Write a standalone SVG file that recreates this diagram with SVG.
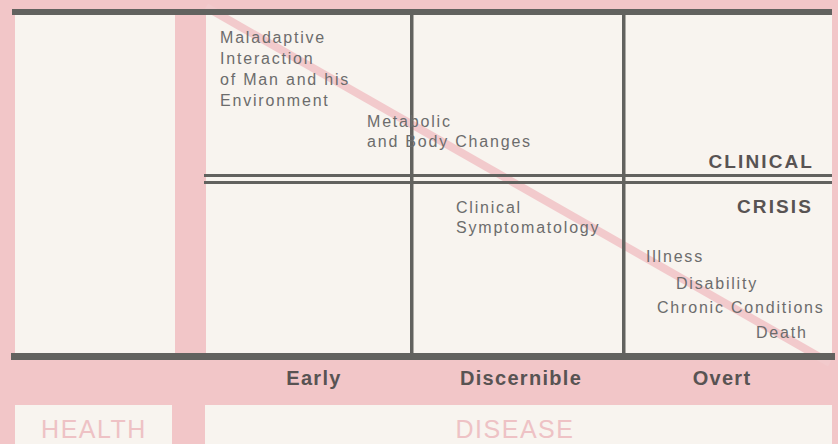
<svg xmlns="http://www.w3.org/2000/svg" width="838" height="444" viewBox="0 0 838 444">
  <style>
    .panel { fill: #f8f4ef; }
    .rule { fill: #62625f; }
    .body { font-family: "Liberation Sans", Arial, sans-serif; font-size: 16px; letter-spacing: 1.8px; fill: #6c6c6c; }
    .head { font-family: "Liberation Sans", Arial, sans-serif; font-size: 19px; font-weight: bold; letter-spacing: 2.1px; fill: #585353; }
    .axis { font-family: "Liberation Sans", Arial, sans-serif; font-size: 20px; font-weight: bold; letter-spacing: 1.3px; fill: #585353; text-anchor: middle; }
    .faint { font-family: "Liberation Sans", Arial, sans-serif; font-size: 25px; letter-spacing: 1.5px; fill: #eec2c5; text-anchor: middle; }
  </style>
  <rect x="0" y="0" width="838" height="444" fill="#f2c6c8"/>

  <g id="panels">
    <rect class="panel" x="15" y="15" width="160" height="338"/>
    <rect class="panel" x="206" y="15" width="626" height="338"/>
  </g>

  <g id="connectors">
    <line x1="206" y1="7" x2="830" y2="363" stroke="#f2cacc" stroke-width="8"/>
  </g>

  <g id="grid">
    <rect class="rule" x="12" y="9" width="820" height="6"/>
    <rect class="rule" x="11" y="353" width="824" height="7"/>
    <rect class="rule" x="204" y="174" width="628" height="3"/>
    <rect class="rule" x="204" y="181" width="628" height="3"/>
    <rect class="rule" x="410" y="15" width="3.5" height="338"/>
    <rect class="rule" x="622" y="15" width="3.5" height="338"/>
  </g>

  <g id="node-maladaptive">
    <text class="body" x="220" y="43">Maladaptive</text>
    <text class="body" x="220" y="64">Interaction</text>
    <text class="body" x="220" y="85">of Man and his</text>
    <text class="body" x="220" y="106">Environment</text>
  </g>
  <g id="node-metabolic">
    <text class="body" x="367" y="127">Metabolic</text>
    <text class="body" x="367" y="147">and Body Changes</text>
  </g>
  <g id="node-clinical-symptomatology">
    <text class="body" x="456" y="213">Clinical</text>
    <text class="body" x="456" y="233">Symptomatology</text>
  </g>
  <g id="node-outcomes">
    <text class="body" x="646" y="262">Illness</text>
    <text class="body" x="676" y="289">Disability</text>
    <text class="body" x="657" y="313">Chronic Conditions</text>
    <text class="body" x="756" y="338">Death</text>
  </g>
  <g id="node-clinical-crisis">
    <text class="head" x="814" y="168" text-anchor="end">CLINICAL</text>
    <text class="head" x="813" y="213" text-anchor="end">CRISIS</text>
  </g>

  <g id="node-stages">
    <text class="axis" x="314" y="385">Early</text>
    <text class="axis" x="521" y="385">Discernible</text>
    <text class="axis" x="722" y="385">Overt</text>
  </g>

  <g id="node-health">
    <rect class="panel" x="15" y="405" width="157" height="39"/>
    <text class="faint" x="94" y="438">HEALTH</text>
  </g>
  <g id="node-disease">
    <rect class="panel" x="205" y="405" width="627" height="39"/>
    <text class="faint" x="515" y="438">DISEASE</text>
  </g>
</svg>
